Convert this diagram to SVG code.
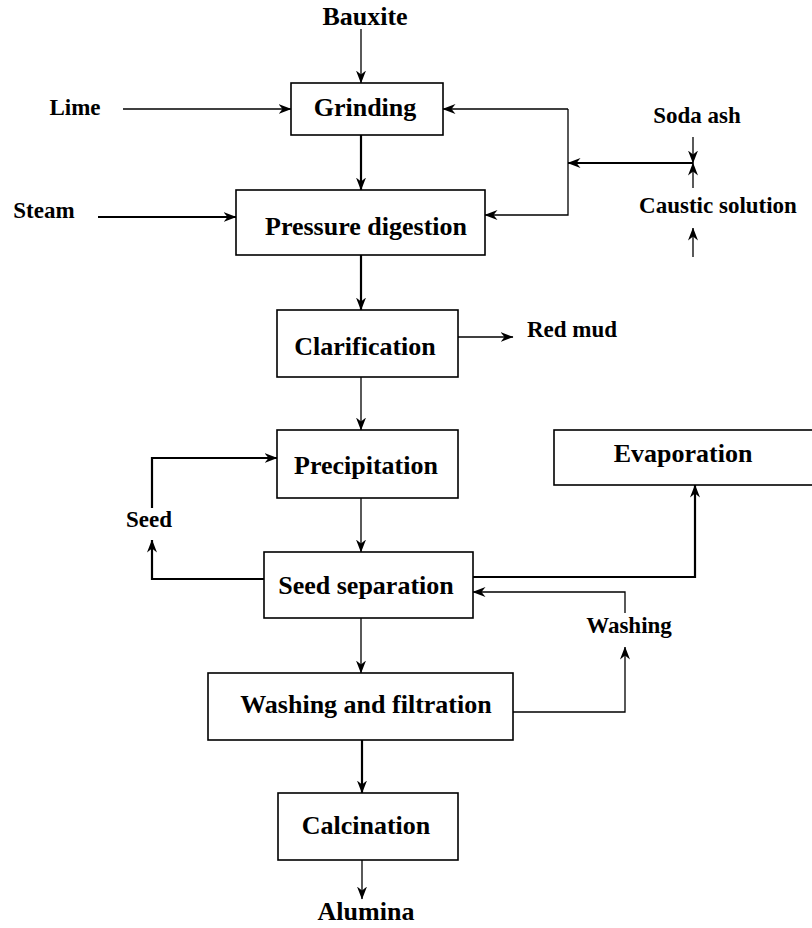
<svg xmlns="http://www.w3.org/2000/svg" width="812" height="928" viewBox="0 0 812 928">
<style>
.box{fill:#fff;stroke:#000;stroke-width:1.6}
.t{font-family:"Liberation Serif","Times New Roman",serif;font-weight:bold;font-size:26px;text-anchor:middle;fill:#000}
.s{font-family:"Liberation Serif","Times New Roman",serif;font-weight:bold;font-size:23px;text-anchor:middle;fill:#000}
.c{fill:none;stroke:#000;stroke-width:1.3}
.k{fill:none;stroke:#000;stroke-width:2.2}
</style>
<defs>
<marker id="a" viewBox="0 0 13 11" refX="12.5" refY="5.5" markerWidth="13" markerHeight="11" markerUnits="userSpaceOnUse" orient="auto">
<path d="M0,0.5 L13,5.5 L0,10.5 L4,5.5 z" fill="#000"/>
</marker>
</defs>
<rect width="812" height="928" fill="#fff"/>
<g id="connectors">
<path class="c" d="M361,29 V83" marker-end="url(#a)"/>
<path class="c" d="M123,109 H291" marker-end="url(#a)"/>
<path class="k" d="M98,217 H236" marker-end="url(#a)"/>
<path class="k" d="M361,135 V190" marker-end="url(#a)"/>
<path class="c" d="M568,109 H443" marker-end="url(#a)"/>
<path class="c" d="M568,109 V215 H485" marker-end="url(#a)"/>
<path class="k" d="M693,163 H568" marker-end="url(#a)"/>
<path class="c" d="M693,137 V163" marker-end="url(#a)"/>
<path class="c" d="M693,188 V163" marker-end="url(#a)"/>
<path class="c" d="M693,257 V228" marker-end="url(#a)"/>
<path class="k" d="M361,255 V310" marker-end="url(#a)"/>
<path class="c" d="M458,337 H513" marker-end="url(#a)"/>
<path class="c" d="M361,377 V430" marker-end="url(#a)"/>
<path class="k" d="M152,508 V458 H277" marker-end="url(#a)"/>
<path class="k" d="M264,579 H152 V540" marker-end="url(#a)"/>
<path class="c" d="M361,498 V552" marker-end="url(#a)"/>
<path class="k" d="M473,577 H695 V485" marker-end="url(#a)"/>
<path class="c" d="M625,613 V592 H473" marker-end="url(#a)"/>
<path class="c" d="M513,712 H625 V647" marker-end="url(#a)"/>
<path class="c" d="M361,618 V673" marker-end="url(#a)"/>
<path class="k" d="M362,740 V793" marker-end="url(#a)"/>
<path class="c" d="M362,860 V899" marker-end="url(#a)"/>
</g>
<g id="labels">
<text class="t" x="365" y="25">Bauxite</text>
<text class="s" x="75" y="115">Lime</text>
<text class="s" x="44" y="218">Steam</text>
<text class="s" x="697" y="123">Soda ash</text>
<text class="s" x="718" y="213">Caustic solution</text>
<text class="s" x="572" y="337">Red mud</text>
<text class="s" x="149" y="527">Seed</text>
<text class="s" x="629" y="633">Washing</text>
<text class="t" x="366" y="920">Alumina</text>
</g>
<g id="grinding"><rect class="box" x="291" y="83" width="152" height="52"/><text class="t" x="365" y="116">Grinding</text></g>
<g id="pressure-digestion"><rect class="box" x="236" y="190" width="249" height="65"/><text class="t" x="366" y="235">Pressure digestion</text></g>
<g id="clarification"><rect class="box" x="277" y="310" width="181" height="67"/><text class="t" x="365" y="355">Clarification</text></g>
<g id="precipitation"><rect class="box" x="277" y="430" width="181" height="68"/><text class="t" x="366" y="474">Precipitation</text></g>
<g id="evaporation"><rect class="box" x="554" y="430" width="262" height="55"/><text class="t" x="683" y="462">Evaporation</text></g>
<g id="seed-separation"><rect class="box" x="264" y="552" width="209" height="66"/><text class="t" x="366" y="594">Seed separation</text></g>
<g id="washing-filtration"><rect class="box" x="208" y="673" width="305" height="67"/><text class="t" x="366" y="713">Washing and filtration</text></g>
<g id="calcination"><rect class="box" x="278" y="793" width="180" height="67"/><text class="t" x="366" y="834">Calcination</text></g>
</svg>
